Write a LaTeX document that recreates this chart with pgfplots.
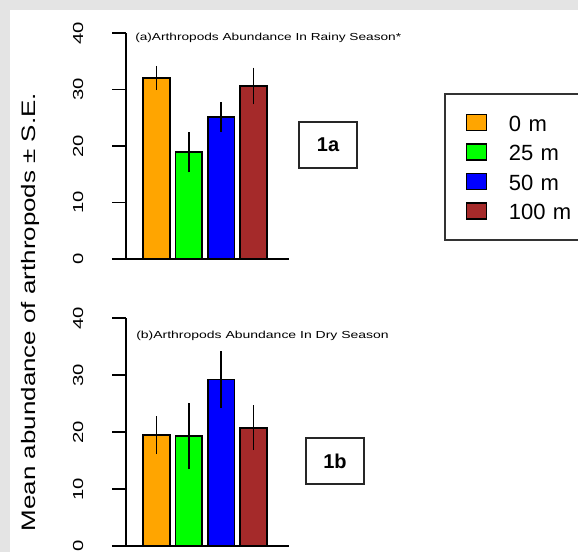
\documentclass[border=0pt]{standalone}
\usepackage{pgfplots}
\pgfplotsset{compat=1.18}
\usepackage{fontspec}
\setmainfont{Liberation Sans}
\definecolor{bgray}{HTML}{E4E4E4}
\definecolor{rbrown}{HTML}{A52A2A}
\definecolor{rorange}{HTML}{FFA500}
\definecolor{rgreen}{HTML}{00FF00}
\definecolor{rblue}{HTML}{0000FF}
\pgfplotsset{
  panel/.style={
    scale only axis, width=163pt,
    xmin=-0.432, xmax=5.618, ymin=0, ymax=40,
    axis y line*=left, axis x line=none,
    y axis line style={line width=1.8pt, black},
    ytick={0,10,20,30,40},
    ytick align=outside, ytick pos=left,
    major tick length=14pt,
    every y tick/.style={black, line width=1.5pt},
    /pgf/number format/assume math mode=true,
    yticklabel shift=29pt,
    yticklabel style={rotate=90, anchor=base, inner sep=0pt, xscale=1.4,
      font=\fontsize{14.5}{14.5}\selectfont},
    clip=false,
    ybar, bar width=26.9pt, bar shift=0pt,
    every axis plot/.append style={draw=black, line width=1.6pt,
      error bars/y dir=both, error bars/y explicit, error bars/error mark=none,
      error bars/error bar style={line width=1.6pt, black}},
    legend image code/.code={\draw[#1, draw=black, line width=1.2pt] (0pt,-8pt) rectangle (20pt,8pt);},
  }
}
\begin{document}
\begin{tikzpicture}
\useasboundingbox (0,0) rectangle (578pt,552pt);
\clip (0,0) rectangle (578pt,552pt);
\fill[bgray] (0,0) rectangle (578pt,552pt);
\fill[white] (10pt,0) rectangle (578pt,542pt);

\begin{axis}[panel, at={(126pt,293pt)}, anchor=south west, height=226pt,
  legend style={at={(rel axis cs:1.9509,0.7345)}, anchor=north west,
    draw=black!80, line width=1.5pt, inner xsep=21pt, inner ysep=14pt,
    column sep=22pt, row sep=0pt,
    font=\fontsize{22}{22}\selectfont,
    nodes={inner sep=0pt, text height=23.6pt, text depth=5.9pt, text width=80pt, align=left}},
  legend cell align=left]
\addplot[fill=rorange] coordinates {(0.7,32.05) +- (0,2.15)};
\addlegendentry{0 m}
\addplot[fill=rgreen] coordinates {(1.9,18.9) +- (0,3.55)};
\addlegendentry{25 m}
\addplot[fill=rblue] coordinates {(3.1,25.1) +- (0,2.65)};
\addlegendentry{50 m}
\addplot[fill=rbrown] coordinates {(4.3,30.6) +- (0,3.25)};
\addlegendentry{100 m}
\draw[line width=1.8pt] (axis cs:-0.952,0) -- (axis cs:5.618,0);
\end{axis}

\begin{axis}[panel, at={(126pt,6pt)}, anchor=south west, height=228pt]
\addplot[fill=rorange] coordinates {(0.7,19.45) +- (0,3.35)};
\addplot[fill=rgreen] coordinates {(1.9,19.3) +- (0,5.8)};
\addplot[fill=rblue] coordinates {(3.1,29.2) +- (0,5.0)};
\addplot[fill=rbrown] coordinates {(4.3,20.75) +- (0,3.95)};
\draw[line width=1.8pt] (axis cs:-0.952,0) -- (axis cs:5.618,0);
\end{axis}

\node[anchor=base west, inner sep=0pt, xscale=1.34, font=\fontsize{10.2}{10.2}\selectfont]
  at (135pt,511.8pt) {(a)Arthropods Abundance In Rainy Season*};
\node[anchor=base west, inner sep=0pt, xscale=1.37, font=\fontsize{10.2}{10.2}\selectfont]
  at (136pt,213pt) {(b)Arthropods Abundance In Dry Season};

\node[draw=black!85, line width=1.3pt, minimum width=58pt, minimum height=46pt,
  font=\fontsize{20}{20}\selectfont\bfseries] at (328pt,407pt) {1a};
\node[draw=black!85, line width=1.3pt, minimum width=58pt, minimum height=46pt,
  font=\fontsize{20}{20}\selectfont\bfseries] at (335pt,91pt) {1b};

\node[rotate=90, anchor=base, inner sep=0pt, xscale=1.33, font=\fontsize{19.5}{19.5}\selectfont]
  at (35pt,240pt) {Mean abundance of arthropods ± S.E.};
\end{tikzpicture}
\end{document}
